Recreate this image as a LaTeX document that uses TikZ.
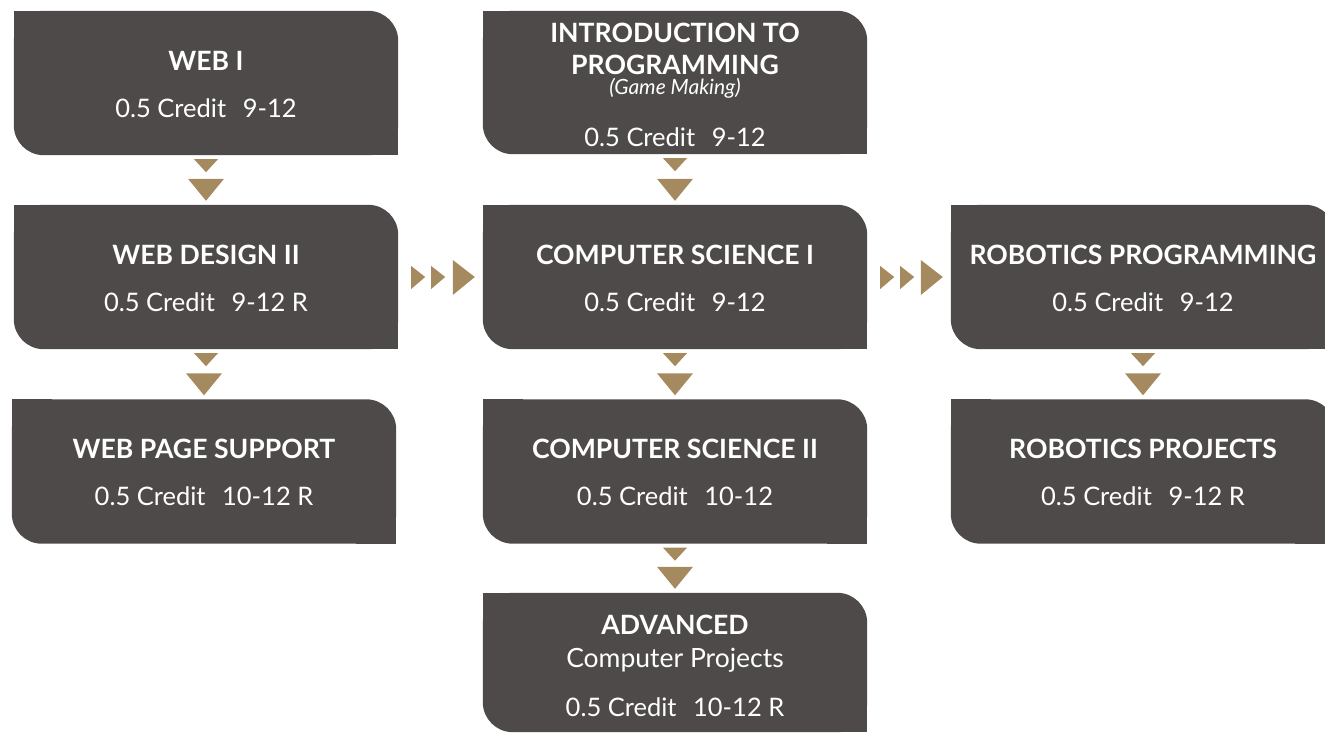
\documentclass[tikz,border=0pt]{standalone}
\usepackage{fontspec}
\setmainfont{Lato}
\usetikzlibrary{calc,backgrounds}
\definecolor{boxc}{RGB}{78,74,74}
\definecolor{gold}{RGB}{164,138,94}
\newcommand\cboxfill[1]{%
  \fill[boxc, rounded corners=30pt] (#1.north west) rectangle (#1.south east);
  \fill[boxc] (#1.north west) rectangle ($(#1.north west)+(40,40)$);
  \fill[boxc] (#1.south east) rectangle ($(#1.south east)+(-40,-40)$);
}
\newcommand\dnarrow[2]{%
  \fill[gold] ($(#1.south)+(-12,4)$) -- ($(#1.south)+(12,4)$) -- ($(#1.south)+(0,17)$) -- cycle;
  \fill[gold] ($(#2.north)+(-18,-26)$) -- ($(#2.north)+(18,-26)$) -- ($(#2.north)+(0,-4)$) -- cycle;
}
\newcommand\rtarrow[2]{%
  \fill[gold] ($(#1.east)+(13,-11)$) -- ($(#1.east)+(13,12)$) -- ($(#1.east)+(27,0)$) -- cycle;
  \fill[gold] ($(#1.east)+(33,-11)$) -- ($(#1.east)+(33,12)$) -- ($(#1.east)+(47,0)$) -- cycle;
  \fill[gold] ($(#2.west)+(-30,-17)$) -- ($(#2.west)+(-30,18)$) -- ($(#2.west)+(-8,0)$) -- cycle;
}
\newcommand\crd{\hspace{0.65em}}
\tikzset{
  box/.style={rectangle, draw=none, inner sep=0pt, minimum width=384pt, minimum height=144pt},
  ttl/.style={anchor=base, inner sep=0pt, text=white, font=\fontsize{26.6}{30}\selectfont\bfseries},
  cred/.style={anchor=base, inner sep=0pt, text=white, font=\fontsize{25.5}{28}\selectfont},
  sub/.style={anchor=base, inner sep=0pt, text=white, font=\fontsize{21}{24}\selectfont\itshape},
}
\begin{document}
\begin{tikzpicture}[x=1pt,y=-1pt]
\useasboundingbox (0,0) rectangle (1325,733);
% boxes
\node[box] (web1) at (206,83) {};
\node[box] (web2) at (206,277) {};
\node[box] (web3) at (204,471.5) {};
\node[box, minimum height=143pt] (intro) at (675,82.5) {};
\node[box] (cs1) at (675,277) {};
\node[box] (cs2) at (675,471.5) {};
\node[box, minimum height=139pt] (adv) at (675,662.5) {};
\node[box] (rob1) at (1143,277) {};
\node[box] (rob2) at (1143,471.5) {};
\begin{pgfonlayer}{background}
\foreach \b in {web1,web2,web3,intro,cs1,cs2,adv,rob1,rob2}{\cboxfill{\b}}
\end{pgfonlayer}
% texts
\node[ttl] (web1t) at ($(web1.north)+(0,60)$) {WEB I};
\node[cred] (web1c) at ($(web1.north)+(0,107)$) {0.5 Credit\crd9-12};
\node[ttl] (web2t) at ($(web2.north)+(0,60)$) {WEB DESIGN II};
\node[cred] (web2c) at ($(web2.north)+(0,107)$) {0.5 Credit\crd9-12 R};
\node[ttl] (web3t) at ($(web3.north)+(0,59)$) {WEB PAGE SUPPORT};
\node[cred] (web3c) at ($(web3.north)+(0,106)$) {0.5 Credit\crd10-12 R};
\node[ttl] (introt1) at ($(intro.north)+(0,32)$) {INTRODUCTION TO};
\node[ttl] (introt2) at ($(intro.north)+(0,64)$) {PROGRAMMING};
\node[sub] (intros) at ($(intro.north)+(0,84)$) {(Game Making)};
\node[cred] (introc) at ($(intro.north)+(0,136)$) {0.5 Credit\crd9-12};
\node[ttl] (cs1t) at ($(cs1.north)+(0,60)$) {COMPUTER SCIENCE I};
\node[cred] (cs1c) at ($(cs1.north)+(0,107)$) {0.5 Credit\crd9-12};
\node[ttl] (cs2t) at ($(cs2.north)+(0,59)$) {COMPUTER SCIENCE II};
\node[cred] (cs2c) at ($(cs2.north)+(0,106)$) {0.5 Credit\crd10-12};
\node[ttl] (advt) at ($(adv.north)+(0,42)$) {ADVANCED};
\node[cred, font=\fontsize{26.5}{30}\selectfont] (advs) at ($(adv.north)+(0,75)$) {Computer Projects};
\node[cred] (advc) at ($(adv.north)+(0,124)$) {0.5 Credit\crd10-12 R};
\node[ttl] (rob1t) at ($(rob1.north)+(0,60)$) {ROBOTICS PROGRAMMING};
\node[cred] (rob1c) at ($(rob1.north)+(0,107)$) {0.5 Credit\crd9-12};
\node[ttl] (rob2t) at ($(rob2.north)+(0,59)$) {ROBOTICS PROJECTS};
\node[cred] (rob2c) at ($(rob2.north)+(0,106)$) {0.5 Credit\crd9-12 R};
% arrows
\dnarrow{web1}{web2}
\dnarrow{web2}{web3}
\dnarrow{intro}{cs1}
\dnarrow{cs1}{cs2}
\dnarrow{cs2}{adv}
\dnarrow{rob1}{rob2}
\rtarrow{web2}{cs1}
\rtarrow{cs1}{rob1}
\end{tikzpicture}
\end{document}
